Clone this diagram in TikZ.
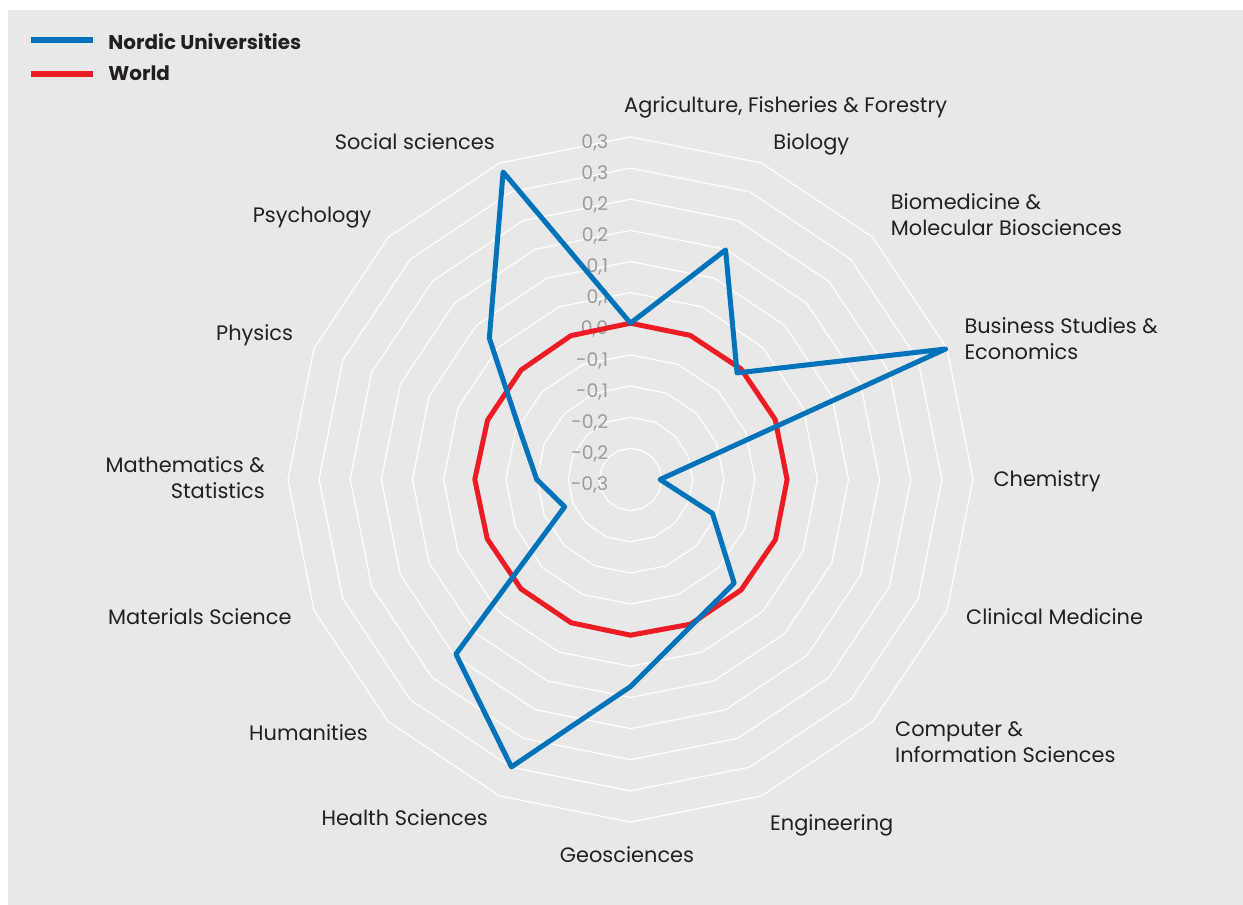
\documentclass[tikz,border=0pt]{standalone}
\usepackage{fontspec}
\setmainfont{Poppins}
\usepackage{xcolor}
\usepackage{tikz}
\usetikzlibrary{positioning}

\definecolor{nordicblue}{HTML}{0073BB}
\definecolor{worldred}{HTML}{ED1C24}
\definecolor{panelgray}{HTML}{E8E8E8}
\definecolor{labeltext}{HTML}{231F20}
\definecolor{scalegray}{HTML}{9B9B9B}
\newcommand{\ringgap}{31.14}

\begin{document}
\begin{tikzpicture}[x=1pt, y=1pt,
            ring/.style={draw=white, line width=1.1pt},
            series/.style={line width=5pt, line join=round},
            catlabel/.style={inner sep=0pt, text=labeltext, font=\fontsize{20.9}{26}\selectfont},
            scalelabel/.style={inner sep=0pt, text=scalegray, font=\fontsize{18.8}{22}\selectfont, anchor=base east},
            legendtext/.style={inner sep=0pt, text=labeltext, font=\fontsize{19.9}{24}\selectfont\bfseries, anchor=base west}]
            \useasboundingbox (-630.5,-425.5) rectangle (612.5,479.5);
            \fill[panelgray] (-622.5,-425.5) rectangle (612.5,469.5);

            % grid rings
            \foreach \k in {1,...,11}
                \draw[ring] (90:{\k*\ringgap}) \foreach \a in {1,...,15} {-- ({90-\a*22.5}:{\k*\ringgap})} -- cycle;

            % scale
            \foreach \t [count=\k from 0] in {{-0,3},{-0,2},{-0,2},{-0,1},{-0,1},{0,0},{0,1},{0,1},{0,2},{0,2},{0,3},{0,3}}
                \node[scalelabel] (scale\k) at (-22.2,{\k*\ringgap-11.2}) {\t};

            % data
            \foreach \v [count=\i] in {5.02,5.01,5.02,5.03,5.03,5.04,5.02,5.03,5.0,4.98,4.97,4.98,5.0,4.97,4.97,5.0}
                \coordinate (world\i) at ({112.5-22.5*\i}:{\v*\ringgap});
            \foreach \v [count=\i] in {5.02,7.98,4.84,10.95,0.95,2.85,4.71,5.09,6.65,9.99,7.93,2.29,3.01,3.8,6.41,10.69}
                \coordinate (nordic\i) at ({112.5-22.5*\i}:{\v*\ringgap});
            \draw[series, worldred] (world1) \foreach \i in {2,...,16} {-- (world\i)} -- cycle;
            \draw[series, nordicblue] (nordic1) \foreach \i in {2,...,16} {-- (nordic\i)} -- cycle;

            % categories
            \node[catlabel, anchor=base west] (agri) at (-6.5,366.5) {Agriculture, Fisheries \& Forestry};
            \node[catlabel, anchor=base west] (bio) at (142.8,329.9) {Biology};
            \node[catlabel, anchor=west, align=left] (biomed) at (260.2,264.8) {Biomedicine \&\\Molecular Biosciences};
            \node[catlabel, anchor=west, align=left] (business) at (333.8,141.2) {Business Studies \&\\Economics};
            \node[catlabel, anchor=base west] (chem) at (362.8,-7.1) {Chemistry};
            \node[catlabel, anchor=base west] (clinical) at (335.5,-144.5) {Clinical Medicine};
            \node[catlabel, anchor=west, align=left] (computer) at (264.5,-262.5) {Computer \&\\Information Sciences};
            \node[catlabel, anchor=base west] (engineering) at (139.5,-350.8) {Engineering};
            \node[catlabel, anchor=base] (geo) at (-3.5,-383.3) {Geosciences};
            \node[catlabel, anchor=base east] (health) at (-142.5,-346.3) {Health Sciences};
            \node[catlabel, anchor=base east] (humanities) at (-262.5,-260.8) {Humanities};
            \node[catlabel, anchor=base east] (materials) at (-338.8,-144.5) {Materials Science};
            \node[catlabel, anchor=east, align=right] (maths) at (-365.5,2) {Mathematics \&\\Statistics};
            \node[catlabel, anchor=base east] (physics) at (-337.2,138.9) {Physics};
            \node[catlabel, anchor=base east] (psych) at (-258.8,257.2) {Psychology};
            \node[catlabel, anchor=base east] (social) at (-135.5,329.5) {Social sciences};

            % legend
            \node[legendtext] (lgnordic) at (-522.2,429.5) {Nordic Universities};
            \node[legendtext] (lgworld) at (-522.2,398.5) {World};
            \draw[nordicblue, line width=6pt] (-599.5,439.3) -- (-537.2,439.3);
            \draw[worldred, line width=6pt] (-599.5,405.3) -- (-537.2,405.3);
        \end{tikzpicture}
\end{document}
